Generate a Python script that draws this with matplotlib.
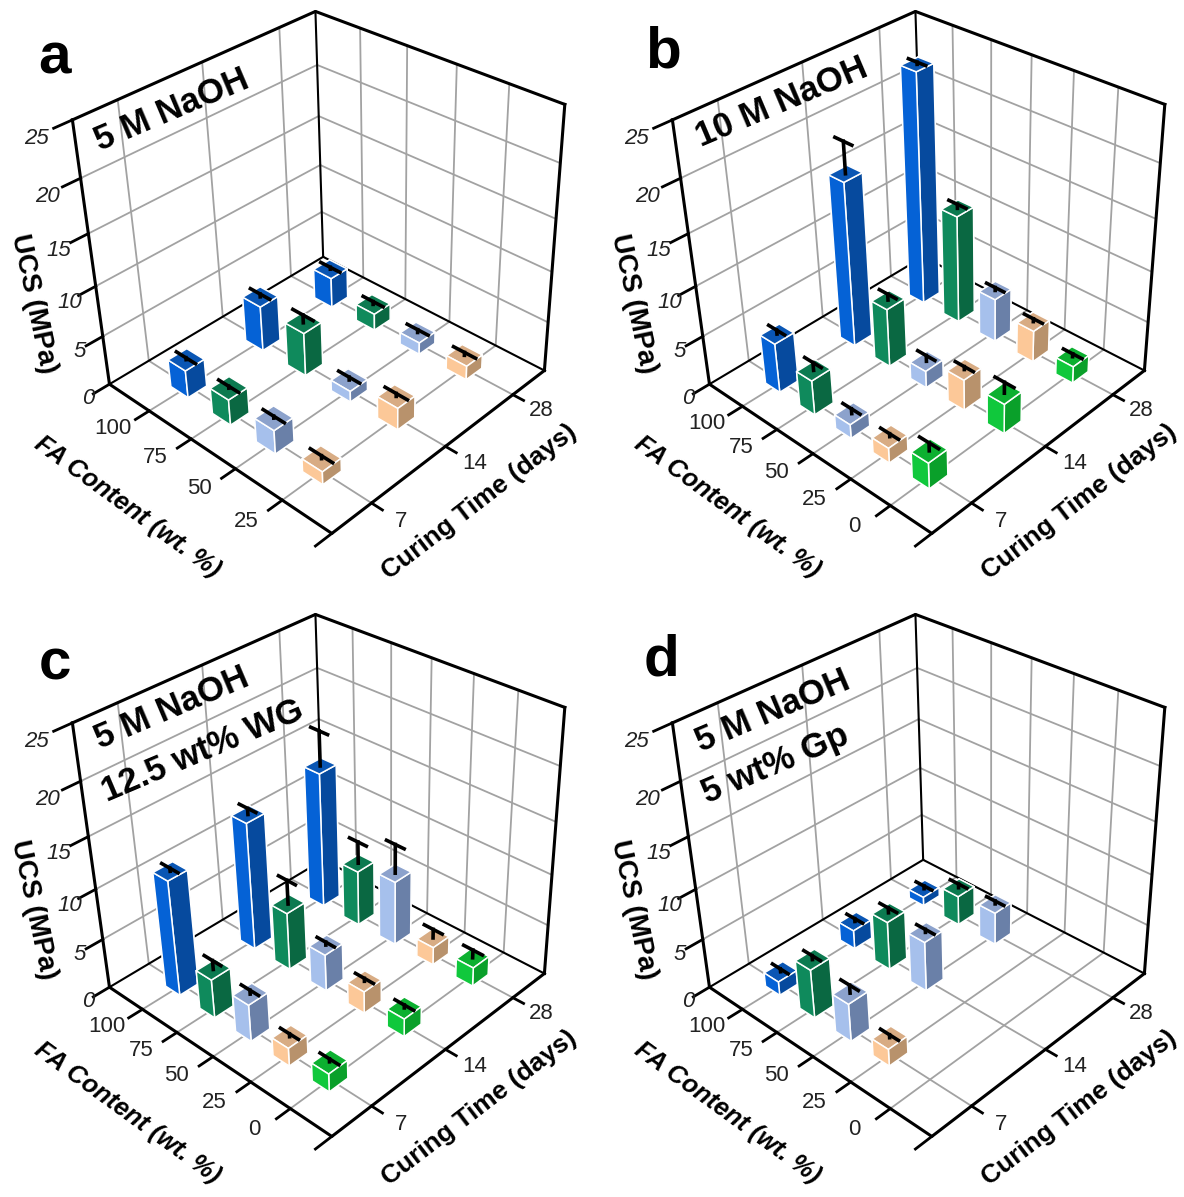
import numpy as np
import matplotlib
matplotlib.use("Agg")
import matplotlib.pyplot as plt

plt.rcParams['font.family'] = ['Liberation Sans', 'DejaVu Sans']

# ---------------- DATA ---------------- #

fa_short = ['100', '75', '50', '25']
fa_long = ['100', '75', '50', '25', '0']
days = ['7', '14', '28']
ucs_ticks = [0, 5, 10, 15, 20, 25]

# rows follow FA content, columns follow curing time (7, 14, 28)
ucs_a = [[2.8, 4.6, 3.1], [2.6, 4.4, 1.7], [2.4, 1.1, 1.2], [1.3, 2.2, 1.4]]
err_a = [[0.2, 0.3, 0.2], [0.2, 0.8, 0.3], [0.2, 0.3, 0.3], [0.3, 0.3, 0.3]]

ucs_b = [[5.0, 16.4, 23.0], [3.5, 5.9, 10.9], [1.4, 1.7, 4.4], [1.5, 3.1, 3.2], [2.6, 3.0, 1.7]]
err_b = [[0.4, 3.0, 0.2], [0.8, 0.6, 0.4], [0.5, 0.6, 0.3], [0.3, 0.3, 0.3], [0.8, 1.1, 0.3]]

ucs_c = [[11.5, 12.8, 13.7], [3.9, 5.8, 5.6], [3.7, 3.7, 6.5], [1.8, 2.2, 1.8], [1.8, 1.8, 1.9]]
err_c = [[0.3, 0.6, 3.4], [0.9, 2.4, 2.2], [0.4, 0.3, 2.9], [0.3, 0.3, 0.9], [0.3, 0.3, 0.8]]

ucs_d = [[1.4, 1.9, 0.9], [4.9, 4.9, 3.0], [3.8, 5.0, 3.3], [1.7, None, None], [None, None, None]]
err_d = [[0.3, 0.3, 0.3], [0.4, 0.5, 0.4], [0.8, 0.3, 0.3], [0.3, None, None], [None, None, None]]

# light face, dark face, top face
colors = [
    ('#0562d6', '#064a9e', '#0a56b4'),
    ('#0f8a5c', '#0a6842', '#0c7a50'),
    ('#a6c0ec', '#6a80a8', '#8ca2cc'),
    ('#fcc898', '#b8926c', '#d8ac84'),
    ('#10c83c', '#0aa02a', '#0cb030'),
]

W, H = 1184, 1197
fig = plt.figure(figsize=(W / 100, H / 100), dpi=100)


def fig_text(x, y, s, **kw):
    fig.text(x / W, 1 - y / H, s, ha='center', va='center', **kw)


# ---------------- ONE PANEL ---------------- #

def draw_panel(ox, oy, letter, letter_pos, notes, fa_labels, ucs, err):
    # axes are oversized and zoomed out so nothing gets clipped at their edge
    pad = 1.5
    size = 544 * pad
    cx, cy = 312 + ox, 264 + oy * 603 / 606
    ax = fig.add_axes([(cx - size / 2) / W, 1 - (cy + size / 2) / H, size / W, size / H],
                      projection='3d', computed_zorder=False)
    ax.set_axis_off()
    ax.patch.set_visible(False)
    ax.set_box_aspect((1, 1, 0.97), zoom=1 / pad)
    ax.view_init(elev=33.5, azim=-45, roll=1.8)
    ax.set_proj_type('persp', focal_length=0.32)

    # FA axis runs one step past the first and last category
    nx, ny, zmax = len(fa_labels) + 1, len(days), ucs_ticks[-1]
    xpos = np.arange(1, nx)
    ypos = np.arange(ny) + 0.5
    xstep = nx / 4

    grid = dict(color='#a2a2a2', lw=1.3, zorder=1)
    for x in xpos:
        ax.plot([x, x], [0, ny], [0, 0], **grid)
        ax.plot([x, x], [ny, ny], [0, zmax], **grid)
    for y in ypos:
        ax.plot([0, nx], [y, y], [0, 0], **grid)
        ax.plot([0, 0], [y, y], [0, zmax], **grid)
    for z in ucs_ticks[1:-1]:
        ax.plot([0, 0], [0, ny], [z, z], **grid)
        ax.plot([0, nx], [ny, ny], [z, z], **grid)

    thin = dict(color='black', lw=1.5, zorder=2)
    ax.plot([0, 0], [0, ny], [0, 0], **thin)
    ax.plot([0, nx], [ny, ny], [0, 0], **thin)
    ax.plot([0, 0], [ny, ny], [0, zmax], **thin)

    thick = dict(color='black', lw=2.2, zorder=2, solid_capstyle='projecting')
    ax.plot([0, 0], [0, 0], [0, zmax], **thick)
    ax.plot([nx, nx], [ny, ny], [0, zmax], **thick)
    ax.plot([0, 0, nx], [0, ny, ny], [zmax, zmax, zmax], **thick)
    ax.plot([0, nx, nx], [0, 0, ny], [0, 0, 0], **thick)

    # tick marks and labels
    tick = dict(color='black', lw=2.0, zorder=2)
    for z in ucs_ticks:
        ax.plot([0, 0], [0, -0.2], [z, z], **tick)
        ax.text(0, -0.26 - 0.005 * z, z - 0.2, str(z), fontsize=16, style='italic', rotation=25,
                ha='center', va='center', color='#222222')
    for x, s in zip(xpos, fa_labels):
        ax.plot([x, x], [0, -0.17], [0, 0], **tick)
        ax.text(x, -0.43, 0.5, s, fontsize=16, rotation=35,
                ha='center', va='center', color='#222222')
    ax.plot([nx, nx], [0, -0.2], [0, 0], **tick)
    for y, s in zip(ypos, days):
        ax.plot([nx, nx + 0.17 * xstep], [y, y], [0, 0], **tick)
        ax.text(nx + 0.45 * xstep, y, 0, s, fontsize=16, rotation=-32,
                ha='center', va='center', color='#222222')

    # bars back to front
    order = 3
    dx, dy = 0.42, 0.24
    for i in range(len(fa_labels)):
        light, dark, top = colors[i]
        for j in reversed(range(ny)):
            h = ucs[i][j]
            if h is None:
                continue
            ax.bar3d(xpos[i] - dx / 2, ypos[j] - dy / 2, 0, dx, dy, h,
                     color=[dark, top, light, dark, dark, dark],
                     edgecolor='white', linewidth=1.1, shade=False, zorder=order)
            e = err[i][j]
            mark = dict(color='black', lw=2.6, zorder=order + 1)
            ax.plot([xpos[i], xpos[i]], [ypos[j], ypos[j]], [h, h + e], **mark)
            ax.plot([xpos[i] - 0.23, xpos[i] + 0.23], [ypos[j], ypos[j]], [h + e, h + e], **mark)
            order += 2

    ax.set_xlim(0, nx, view_margin=0)
    ax.set_ylim(0, ny, view_margin=0)
    ax.set_zlim(0, zmax, view_margin=0)

    # texts outside the 3D scene
    fig_text(ox + 33, oy + 304, 'UCS (MPa)', fontsize=20, fontweight='bold', rotation=-78)
    fig_text(ox + 127, oy + 507, 'FA Content (wt. %)', fontsize=18.3, fontweight='bold',
             style='italic', rotation=-36)
    fig_text(ox + 479, oy + 502, 'Curing Time (days)', fontsize=19, fontweight='bold', rotation=37.5)
    fig_text(letter_pos[0], letter_pos[1], letter, fontsize=42, fontweight='bold')
    for s, x, y in notes:
        fig_text(x, y, s, fontsize=25, fontweight='bold', rotation=23)


# ---------------- MAIN ---------------- #

draw_panel(0, 0, 'a', (55, 58), [('5 M NaOH', 172, 110)], fa_short, ucs_a, err_a)
draw_panel(600, 0, 'b', (663, 53), [('10 M NaOH', 782, 102)], fa_long, ucs_b, err_b)
draw_panel(0, 606, 'c', (55, 664), [('5 M NaOH', 172, 708), ('12.5 wt% WG', 203, 751)], fa_long, ucs_c, err_c)
draw_panel(600, 606, 'd', (662, 660), [('5 M NaOH', 773, 711), ('5 wt% Gp', 775, 764)], fa_long, ucs_d, err_d)

fig.savefig('out.png', dpi=100)
